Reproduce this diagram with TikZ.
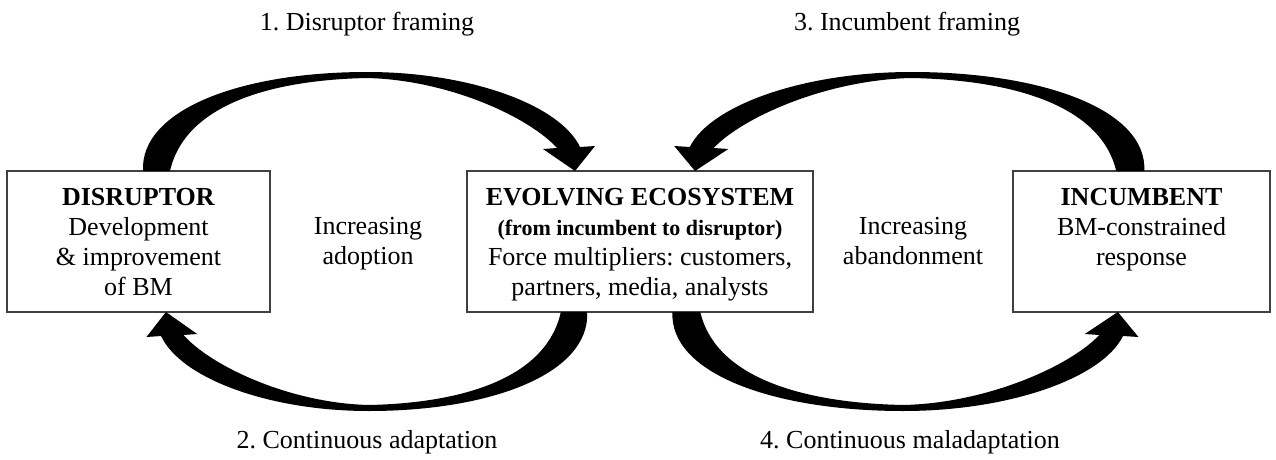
\documentclass[tikz,border=0pt]{standalone}
\usepackage{fontspec}
\setmainfont{Liberation Serif}
\frenchspacing
% Tapered curved arrow: tail on the left (x 143..170, y 171), tip at (575,171)
\newcommand\arcarrowpath{
  (143,171) .. controls (140,110) and (240,72) .. (367,72)
  .. controls (470,72) and (560,105) .. (580,147)
  -- (595,146) -- (575,171) -- (543,149) -- (557,148)
  .. controls (530,118) and (450,80) .. (367,78)
  .. controls (270,80) and (185,105) .. (170,171) -- cycle}
\begin{document}
\begin{tikzpicture}[x=1pt, y=-1pt,
  box/.style={draw=black!75, line width=1.3pt, rectangle, inner sep=0pt, minimum height=141pt},
  boxtext/.style={anchor=north, align=center, inner sep=0pt, font=\fontsize{26}{30}\selectfont},
  caption/.style={anchor=north, align=center, inner sep=0pt, font=\fontsize{26}{30}\selectfont},
  bigarrow/.style={fill=black, draw=none}
]
\useasboundingbox (0,0) rectangle (1276,460);

% the three boxes
\node[box, minimum width=263pt] (dis) at (138.5,241.5) {};
\node[box, minimum width=346pt] (eco) at (640,241.5) {};
\node[box, minimum width=257pt] (inc) at (1141.5,241.5) {};

% box contents
\node[boxtext] (distext) at (138.5,188.5)
  {\textbf{DISRUPTOR}\\Development\\\& improvement\\of BM};
\node[boxtext] (ecotext) at (640,188.5)
  {\textbf{EVOLVING ECOSYSTEM}\\{\fontsize{22}{30}\selectfont\bfseries (from incumbent to disruptor)}\\Force multipliers: customers,\\partners, media, analysts};
\node[boxtext] (inctext) at (1141.5,188.5)
  {\textbf{INCUMBENT}\\BM-constrained\\response};

% texts between the boxes
\node[boxtext] (adopt) at (368,217) {Increasing\\adoption};
\node[boxtext] (aband) at (913,217) {Increasing\\abandonment};

% loop captions
\node[caption] (c1) at (367,12) {1. Disruptor framing};
\node[caption] (c3) at (907,12) {3. Incumbent framing};
\node[caption] (c2) at (367,430) {2. Continuous adaptation};
\node[caption] (c4) at (910,430) {4. Continuous maladaptation};

% 1: disruptor -> ecosystem (top left)
\begin{scope}
  \fill[bigarrow] \arcarrowpath;
\end{scope}
% 2: ecosystem -> disruptor (bottom left)
\begin{scope}[shift={(726.6,483)}, xscale=-0.975, yscale=-1]
  \fill[bigarrow] \arcarrowpath;
\end{scope}
% 3: incumbent -> ecosystem (top right)
\begin{scope}[shift={(1293,0)}, xscale=-1.04]
  \fill[bigarrow] \arcarrowpath;
\end{scope}
% 4: ecosystem -> incumbent (bottom right)
\begin{scope}[shift={(525,483)}, xscale=1.031, yscale=-1]
  \fill[bigarrow] \arcarrowpath;
\end{scope}
\end{tikzpicture}
\end{document}
